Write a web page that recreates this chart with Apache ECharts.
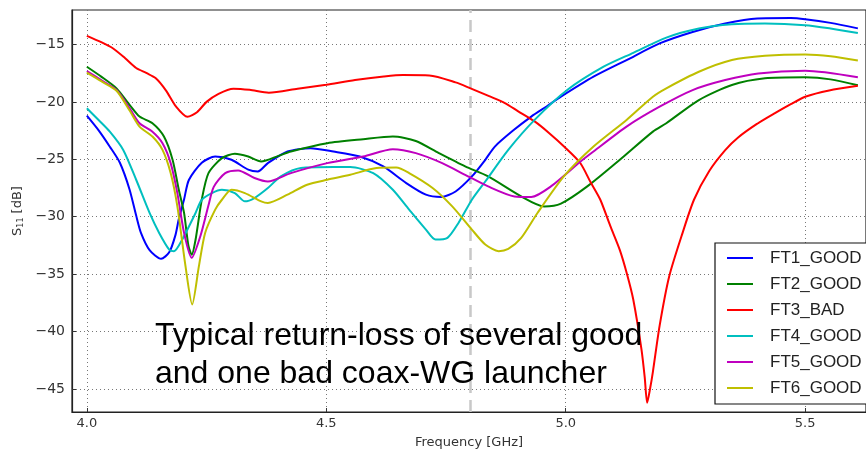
<!DOCTYPE html>
<html><head><meta charset="utf-8">
<script src="https://cdn.jsdelivr.net/npm/echarts@6/dist/echarts.min.js"></script>
<style>html,body{margin:0;padding:0;background:#fff}#c{width:866px;height:455px}</style>
</head><body><div id="c"></div>
<script>
// ---------- data ----------
const seriesNames = ['FT1_GOOD', 'FT2_GOOD', 'FT3_BAD', 'FT4_GOOD', 'FT5_GOOD', 'FT6_GOOD'];
const xTicks = [4.0, 4.5, 5.0, 5.5];
const yTicks = [-45, -40, -35, -30, -25, -20, -15];
const markerFreq = 4.8;

const ft1Freq = [4.00,4.025,4.048,4.069,4.089,4.103,4.113,4.131,4.155,4.172,4.185,4.192,4.203,4.213,4.24,4.268,4.302,4.337,4.357,4.378,4.419,4.467,4.515,4.57,4.619,4.667,4.708,4.74,4.77,4.804,4.832,4.852,4.89,4.928,4.96,4.99,5.058,5.127,5.196,5.265,5.333,5.40,5.47,5.50,5.553,5.61];
const ft1S11 = [-21.2,-22.5,-23.9,-25.3,-27.6,-29.9,-31.4,-32.9,-33.66,-33.1,-31.6,-30.2,-28.5,-26.8,-25.3,-24.76,-25.04,-25.9,-26.06,-25.33,-24.32,-24.03,-24.32,-24.76,-25.62,-27.07,-28.08,-28.28,-27.8,-26.49,-25.04,-23.89,-22.5,-21.28,-20.4,-19.55,-17.81,-16.36,-14.91,-13.91,-13.18,-12.74,-12.70,-12.8,-13.12,-13.6];

const ft2Freq = [4.00,4.03,4.062,4.09,4.11,4.137,4.161,4.179,4.192,4.203,4.212,4.219,4.227,4.24,4.254,4.282,4.309,4.337,4.364,4.40,4.426,4.502,4.577,4.639,4.687,4.735,4.79,4.838,4.907,4.955,4.99,5.045,5.113,5.182,5.21,5.278,5.347,5.416,5.50,5.553,5.61];
const ft2S11 = [-16.94,-17.8,-18.82,-20.3,-21.28,-21.86,-23.02,-25.04,-27.65,-29.67,-32.5,-33.3,-32.0,-28.5,-26.2,-24.9,-24.52,-24.76,-25.19,-24.7,-24.32,-23.6,-23.25,-23.02,-23.4,-24.46,-25.62,-26.49,-28.23,-29.1,-28.86,-27.36,-25.04,-22.59,-21.86,-19.84,-18.53,-17.95,-17.86,-18.04,-18.55];

const ft3Freq = [4.00,4.03,4.055,4.08,4.103,4.125,4.144,4.165,4.186,4.21,4.23,4.25,4.275,4.306,4.34,4.38,4.44,4.50,4.56,4.62,4.66,4.715,4.77,4.80,4.84,4.873,4.90,4.935,4.965,4.997,5.03,5.052,5.072,5.093,5.113,5.128,5.141,5.158,5.165,5.170,5.176,5.182,5.196,5.216,5.244,5.268,5.30,5.333,5.36,5.40,5.436,5.47,5.50,5.55,5.61];
const ft3S11 = [-14.25,-14.8,-15.35,-16.2,-17.05,-17.5,-17.95,-19.0,-20.4,-21.3,-20.9,-20.0,-19.3,-18.85,-18.95,-19.2,-18.85,-18.5,-18.1,-17.8,-17.67,-17.7,-18.3,-18.8,-19.5,-20.1,-20.8,-21.7,-22.7,-23.9,-25.3,-27.0,-28.5,-30.8,-32.9,-35.0,-37.2,-41.5,-44.0,-46.2,-45.0,-43.5,-39.5,-35.2,-31.4,-28.5,-26.0,-24.2,-23.1,-21.9,-21.0,-20.2,-19.55,-19.0,-18.6];

const ft4Freq = [4.00,4.025,4.048,4.076,4.103,4.131,4.151,4.172,4.182,4.199,4.227,4.24,4.261,4.282,4.309,4.33,4.35,4.378,4.405,4.447,4.515,4.55,4.598,4.639,4.673,4.708,4.728,4.753,4.776,4.804,4.832,4.88,4.935,5.003,5.079,5.141,5.21,5.278,5.347,5.416,5.50,5.553,5.61];
const ft4S11 = [-20.56,-21.6,-22.59,-24.18,-26.78,-29.67,-31.41,-32.86,-33.0,-32.0,-29.67,-28.52,-27.94,-27.65,-27.94,-28.66,-28.37,-27.5,-26.49,-25.76,-25.68,-25.68,-26.2,-27.65,-29.38,-31.12,-31.99,-31.84,-30.54,-28.52,-26.93,-24.18,-21.57,-18.97,-16.94,-15.73,-14.4,-13.61,-13.24,-13.18,-13.32,-13.61,-14.0];

const ft5Freq = [4.00,4.03,4.062,4.09,4.11,4.137,4.158,4.175,4.189,4.203,4.219,4.237,4.254,4.265,4.289,4.316,4.35,4.378,4.426,4.502,4.577,4.639,4.687,4.742,4.79,4.838,4.893,4.928,4.969,5.031,5.058,5.127,5.196,5.265,5.333,5.402,5.50,5.61];
const ft5S11 = [-17.32,-18.1,-18.97,-20.6,-21.86,-22.6,-23.6,-25.33,-27.94,-31.4,-33.58,-31.7,-29.0,-27.4,-26.2,-25.97,-26.63,-26.93,-26.2,-25.33,-24.76,-24.12,-24.46,-25.33,-26.35,-27.36,-28.23,-28.28,-27.36,-25.19,-24.32,-22.15,-20.42,-18.97,-18.1,-17.52,-17.29,-17.85];

const ft6Freq = [4.00,4.03,4.062,4.09,4.11,4.137,4.158,4.175,4.189,4.206,4.22,4.234,4.247,4.268,4.282,4.302,4.33,4.364,4.378,4.419,4.46,4.502,4.55,4.605,4.646,4.673,4.722,4.763,4.804,4.832,4.86,4.88,4.907,4.941,4.996,5.058,5.127,5.182,5.21,5.278,5.347,5.416,5.50,5.553,5.61];
const ft6S11 = [-17.46,-18.2,-19.03,-20.8,-22.15,-23.02,-24.18,-26.2,-29.1,-34.3,-37.63,-34.3,-31.41,-29.38,-28.52,-27.65,-27.94,-28.66,-28.8,-28.08,-27.21,-26.78,-26.35,-25.76,-25.72,-26.2,-27.5,-29.1,-31.12,-32.42,-33.0,-32.8,-31.84,-29.67,-26.49,-23.89,-21.57,-19.55,-18.82,-17.38,-16.36,-15.99,-15.87,-16.02,-16.4];

const annotationLines = ['Typical return-loss of several good', 'and one bad coax-WG launcher'];

// ---------- chart ----------
const freqs = [ft1Freq, ft2Freq, ft3Freq, ft4Freq, ft5Freq, ft6Freq];
const vals = [ft1S11, ft2S11, ft3S11, ft4S11, ft5S11, ft6S11];
const colors = ['#0000ff', '#008000', '#ff0000', '#00bfbf', '#bf00bf', '#bfbf00'];

const chart = echarts.init(document.getElementById('c'), null, {renderer: 'canvas'});
const fmtMinus = v => (v < 0 ? '\u2212' + Math.abs(v) : String(v));

const series = seriesNames.map((name, i) => ({
  name: name,
  type: 'line',
  data: freqs[i].map((f, k) => [f, vals[i][k]]),
  symbol: 'none',
  smooth: 0.25,
  z: 3,
  lineStyle: {color: colors[i], width: 2},
  itemStyle: {color: colors[i]},
  emphasis: {disabled: true},
  animation: false
}));
series.unshift({
  name: 'marker',
  type: 'line',
  data: [],
  z: 1,
  animation: false,
  markLine: {
    silent: true,
    symbol: 'none',
    label: {show: false},
    animation: false,
    z: 1,
    lineStyle: {color: '#c8c8c8', width: 2.5, type: [12, 7]},
    data: [{xAxis: markerFreq}]
  }
});

chart.setOption({
  animation: false,
  backgroundColor: '#fff',
  grid: {left: 72, top: 10, bottom: 43, right: -10, show: true, borderColor: '#222', borderWidth: 1.2, backgroundColor: 'transparent'},
  xAxis: {
    type: 'value', min: 3.969, max: 5.627,
    axisLine: {show: true, onZero: false, lineStyle: {color: '#222', width: 1.2}},
    axisTick: {show: true, inside: true, length: 4, customValues: xTicks, lineStyle: {color: '#333'}},
    axisLabel: {customValues: xTicks, formatter: v => v.toFixed(1), color: '#333', fontFamily: 'DejaVu Sans', fontSize: 13, margin: 5},
    splitLine: {show: true, customValues: xTicks, lineStyle: {color: '#777', width: 1, type: [1, 3]}},
    name: 'Frequency [GHz]', nameLocation: 'middle', nameGap: 24,
    nameTextStyle: {color: '#333', fontFamily: 'DejaVu Sans', fontSize: 13}
  },
  yAxis: {
    type: 'value', min: -47, max: -12,
    axisLine: {show: true, onZero: false, lineStyle: {color: '#222', width: 1.2}},
    axisTick: {show: true, inside: true, length: 4, customValues: yTicks, lineStyle: {color: '#333'}},
    axisLabel: {customValues: yTicks, formatter: fmtMinus, color: '#333', fontFamily: 'DejaVu Sans', fontSize: 14, margin: 7},
    splitLine: {show: true, customValues: yTicks, lineStyle: {color: '#777', width: 1, type: [1, 3]}},
    name: '{a|S}{b|11}{a| [dB]}', nameLocation: 'middle', nameGap: 45, nameRotate: 90,
    nameTextStyle: {
      color: '#333',
      rich: {
        a: {fontFamily: 'DejaVu Sans', fontSize: 13, color: '#333', lineHeight: 16},
        b: {fontFamily: 'DejaVu Sans', fontSize: 8, color: '#333', padding: [6, 0, 0, 0]}
      }
    }
  },
  legend: {
    show: true,
    orient: 'vertical',
    left: 715, top: 243,
    data: seriesNames.map(n => ({name: n, icon: 'path://M0,0 L26,0 L26,2 L0,2 Z'})),
    itemWidth: 26, itemHeight: 2, itemGap: 6,
    padding: [5, 30, 6, 12],
    borderColor: '#111', borderWidth: 1.2, backgroundColor: '#fff',
    textStyle: {fontFamily: 'Liberation Sans', fontSize: 17, color: '#222', lineHeight: 20, padding: [0, 0, 0, 12]},
    selectedMode: false,
    z: 10
  },
  graphic: [{
    type: 'text', left: 155, top: 317, z: 20,
    style: {text: annotationLines.join('\n'), font: '32px "Liberation Sans"', fill: '#000', lineHeight: 38}
  }],
  series: series
});
</script></body></html>
